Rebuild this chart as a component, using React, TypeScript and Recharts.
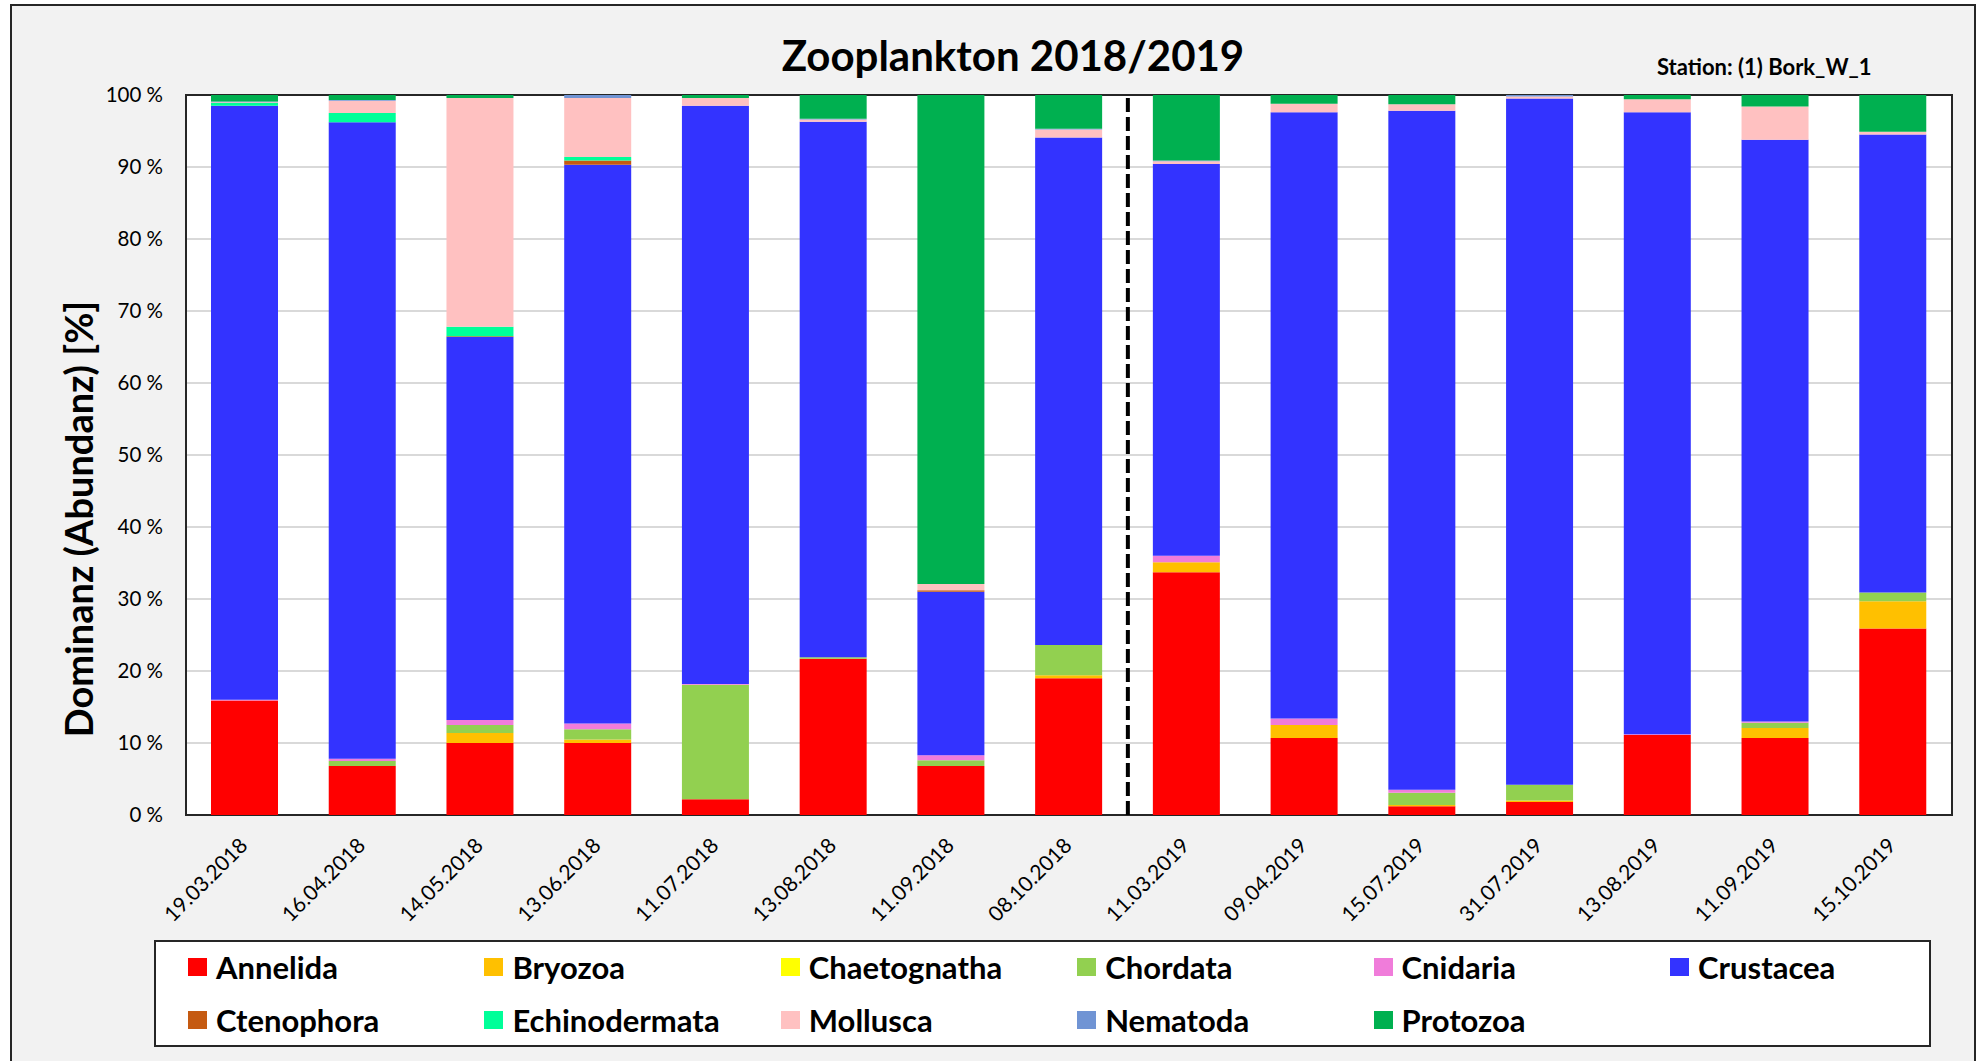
import React from "react";
import {
  BarChart,
  Bar,
  XAxis,
  YAxis,
  CartesianGrid,
  ReferenceLine,
  ReferenceArea,
} from "recharts";

// Sampling dates (x categories)
const categories = [
  "19.03.2018", "16.04.2018", "14.05.2018", "13.06.2018", "11.07.2018",
  "13.08.2018", "11.09.2018", "08.10.2018", "11.03.2019", "09.04.2019",
  "15.07.2019", "31.07.2019", "13.08.2019", "11.09.2019", "15.10.2019",
];

// Dominance per taxon in %
const annelida = [15.9, 6.8, 10.0, 10.0, 2.2, 21.7, 6.8, 19.0, 33.7, 10.7, 1.2, 1.8, 11.1, 10.7, 25.9];
const bryozoa = [0, 0, 1.4, 0.5, 0, 0, 0, 0.4, 1.4, 1.8, 0.2, 0.2, 0, 1.4, 3.8];
const chaetognatha = [0, 0, 0, 0, 0, 0, 0, 0, 0, 0, 0, 0, 0, 0, 0];
const chordata = [0, 0.7, 1.1, 1.4, 15.9, 0.2, 0.8, 4.2, 0, 0, 1.7, 2.2, 0, 0.7, 1.2];
const cnidaria = [0.1, 0.3, 0.7, 0.8, 0.1, 0, 0.7, 0, 0.9, 0.9, 0.4, 0, 0.1, 0.2, 0];
const crustacea = [82.5, 88.4, 53.2, 77.6, 80.3, 74.4, 22.7, 70.5, 54.4, 84.2, 94.3, 95.3, 86.4, 80.8, 63.6];
const ctenophora = [0, 0, 0.1, 0.6, 0, 0, 0.2, 0, 0, 0, 0, 0, 0, 0, 0];
const echinodermata = [0.4, 1.3, 1.3, 0.5, 0, 0, 0, 0, 0, 0, 0, 0, 0, 0, 0];
const mollusca = [0.1, 1.7, 31.8, 8.2, 1.1, 0.3, 0.9, 1.1, 0.4, 1.2, 0.9, 0.3, 1.8, 4.6, 0.4];
const nematoda = [0.1, 0.1, 0, 0.4, 0, 0.1, 0, 0.1, 0.1, 0, 0, 0.2, 0, 0, 0];
const protozoa = [0.9, 0.7, 0.4, 0, 0.4, 3.3, 67.9, 4.7, 9.1, 1.2, 1.3, 0, 0.6, 1.6, 5.1];

const yTicks = [0, 0.1, 0.2, 0.3, 0.4, 0.5, 0.6, 0.7, 0.8, 0.9, 1];

const series = [
  { name: "Annelida", values: annelida, color: "#FF0000" },
  { name: "Bryozoa", values: bryozoa, color: "#FFC000" },
  { name: "Chaetognatha", values: chaetognatha, color: "#FFFF00" },
  { name: "Chordata", values: chordata, color: "#92D050" },
  { name: "Cnidaria", values: cnidaria, color: "#F07CDA" },
  { name: "Crustacea", values: crustacea, color: "#3333FF" },
  { name: "Ctenophora", values: ctenophora, color: "#C55A11" },
  { name: "Echinodermata", values: echinodermata, color: "#00FF99" },
  { name: "Mollusca", values: mollusca, color: "#FFC1C1" },
  { name: "Nematoda", values: nematoda, color: "#7094D4" },
  { name: "Protozoa", values: protozoa, color: "#00B050" },
];

const data = categories.map((date, i) => {
  const row: Record<string, number | string> = { date, idx: i + 0.5 };
  series.forEach((s) => {
    row[s.name] = s.values[i];
  });
  return row;
});

const FONT = "Lato, 'Open Sans', sans-serif";

const DateTick = ({ x, y, payload }: any) => (
  <text
    x={0}
    y={0}
    transform={`translate(${x + 4},${y + 32}) rotate(-45)`}
    textAnchor="end"
    fontSize={21}
    fontFamily={FONT}
    fill="#000"
  >
    {payload.value}
  </text>
);

const App: React.FC = () => {
  return (
    <div
      style={{
        position: "absolute",
        left: 0,
        top: 0,
        width: 1977,
        height: 1061,
        overflow: "hidden",
        background: "#fff",
        fontFamily: FONT,
      }}
    >
      {/* outer chart frame */}
      <div
        style={{
          position: "absolute",
          left: 10,
          top: 4,
          width: 1962,
          height: 1070,
          background: "#F2F2F2",
          border: "2px solid #262626",
        }}
      />
      <div
        style={{
          position: "absolute",
          left: 0,
          width: 1977,
          top: 30,
          textAlign: "center",
          fontSize: 42,
          fontWeight: 700,
          color: "#000",
          paddingLeft: 49,
          boxSizing: "border-box",
        }}
      >
        Zooplankton 2018/2019
      </div>
      <div
        style={{
          position: "absolute",
          left: 1657,
          top: 53,
          fontSize: 22,
          fontWeight: 700,
          color: "#000",
          whiteSpace: "nowrap",
        }}
      >
        Station: (1) Bork_W_1
      </div>
      <div
        style={{
          position: "absolute",
          left: 78,
          top: 519,
          transform: "translate(-50%, -50%) rotate(-90deg)",
          fontSize: 38,
          fontWeight: 700,
          color: "#000",
          whiteSpace: "nowrap",
        }}
      >
        Dominanz (Abundanz) [%]
      </div>

      <div style={{ position: "absolute", left: 0, top: 0 }}>
        <BarChart
          width={1977}
          height={1061}
          data={data}
          stackOffset="expand"
          margin={{ top: 95, right: 25, bottom: 126, left: 106 }}
          barSize={67}
        >
          <CartesianGrid vertical={false} stroke="#D9D9D9" strokeWidth={2} fill="#FFFFFF" />
          <XAxis
            xAxisId="cat"
            dataKey="date"
            height={120}
            interval={0}
            tick={<DateTick />}
            tickLine={false}
            axisLine={false}
            tickSize={0}
            tickMargin={0}
          />
          <XAxis xAxisId="num" dataKey="idx" type="number" domain={[0, 15]} hide />
          <YAxis
            width={80}
            domain={[0, 1]}
            ticks={yTicks}
            tickFormatter={(v: number) => `${Math.round(v * 100)} %`}
            tick={{ fill: "#000", fontSize: 20.5, fontFamily: FONT }}
            tickLine={false}
            axisLine={false}
            tickSize={0}
            tickMargin={23}
          />
          {series.map((s) => (
            <Bar
              key={s.name}
              xAxisId="cat"
              dataKey={s.name}
              stackId="a"
              fill={s.color}
              isAnimationActive={false}
            />
          ))}
          <ReferenceLine
            xAxisId="num"
            x={8}
            stroke="#000"
            strokeWidth={4}
            strokeDasharray="14 5"
          />
          <ReferenceArea
            xAxisId="num"
            x1={0}
            x2={15}
            y1={0}
            y2={1}
            fill="none"
            fillOpacity={0}
            stroke="#262626"
            strokeWidth={2}
          />
        </BarChart>
      </div>

      {/* legend */}
      <div
        style={{
          position: "absolute",
          left: 154,
          top: 940,
          width: 1777,
          height: 107,
          boxSizing: "border-box",
          background: "#fff",
          border: "2px solid #262626",
        }}
      >
        {series.map((s, i) => {
          const col = i % 6;
          const row = Math.floor(i / 6);
          return (
            <div
              key={s.name}
              style={{
                position: "absolute",
                left: 32 + col * 296.4,
                top: 25 + row * 53 - 20,
                height: 40,
                display: "flex",
                alignItems: "center",
                whiteSpace: "nowrap",
              }}
            >
              <span
                style={{
                  display: "inline-block",
                  width: 19,
                  height: 18,
                  background: s.color,
                  marginRight: 9,
                }}
              />
              <span style={{ fontSize: 31, fontWeight: 700, color: "#000" }}>{s.name}</span>
            </div>
          );
        })}
      </div>
    </div>
  );
};

export default App;
